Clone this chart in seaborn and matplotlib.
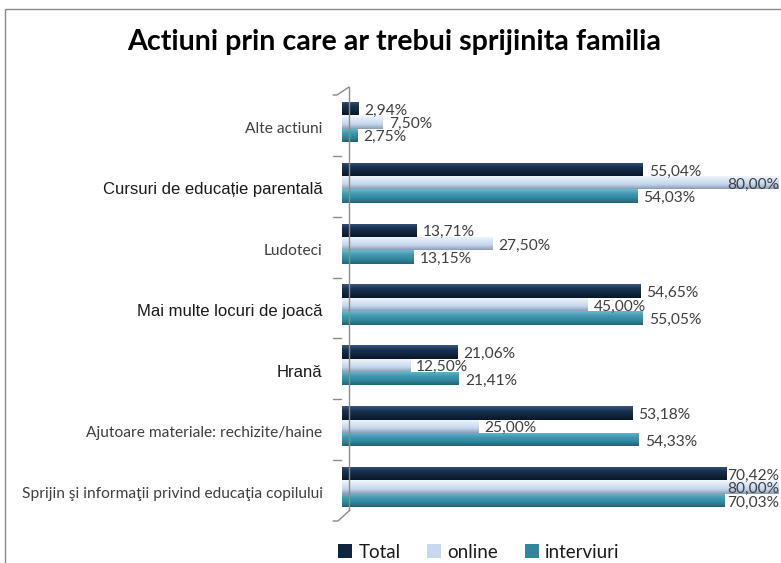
import numpy as np
import pandas as pd
import matplotlib
matplotlib.use("Agg")
import matplotlib.pyplot as plt
import matplotlib.transforms as mtrans
from matplotlib.lines import Line2D
from matplotlib.patches import Patch, Rectangle
from matplotlib.colors import to_rgb
import seaborn as sns

# ---------------- data ----------------
categories = [
    "Alte actiuni",
    "Cursuri de educație parentală",
    "Ludoteci",
    "Mai multe locuri de joacă",
    "Hrană",
    "Ajutoare materiale: rechizite/haine",
    "Sprijin şi informaţii privind educaţia copilului",
]
total = [2.94, 55.04, 13.71, 54.65, 21.06, 53.18, 70.42]
online = [7.50, 80.00, 27.50, 45.00, 12.50, 25.00, 80.00]
interviuri = [2.75, 54.03, 13.15, 55.05, 21.41, 54.33, 70.03]
series_names = ["Total", "online", "interviuri"]
title = "Actiuni prin care ar trebui sprijinita familia"
arial_like = {"Cursuri de educație parentală", "Mai multe locuri de joacă", "Hrană"}

colors = {"Total": "#10253f", "online": "#c6d9f1", "interviuri": "#31859c"}
gradients = {
    "Total": ["#3a5780", "#1a3254", "#10253f", "#0a1828"],
    "online": ["#f3f7fc", "#dbe7f5", "#c3d5ec", "#8b9cb3"],
    "interviuri": ["#6cb9cf", "#4499b2", "#31859c", "#226477"],
}

df = pd.DataFrame({
    "cat": categories * 3,
    "value": total + online + interviuri,
    "series": sum([[s] * len(categories) for s in series_names], []),
})

# ---------------- figure ----------------
W, H, DPI = 781, 563, 100
sns.set_theme(style="white")
plt.rcParams["font.family"] = ["Lato", "DejaVu Sans"]
fig = plt.figure(figsize=(W / DPI, H / DPI), dpi=DPI)
fig.patch.set_facecolor("white")

def fx(px):
    return px / W

def fy(py):
    return 1 - py / H

left_px, top_px, bottom_px = 342, 91.5, 517.5
ax = fig.add_axes([fx(left_px), fy(bottom_px), 1 - fx(left_px), (bottom_px - top_px) / H])
ax.set_facecolor("none")

sns.barplot(data=df, y="cat", x="value", hue="series", hue_order=series_names,
            order=categories, palette=colors, orient="h", width=0.66, gap=0,
            saturation=1, legend=False, ax=ax, edgecolor="none", linewidth=0)

px_per_unit = 5.4625
xmax = (W - left_px) / px_per_unit
ax.set_xlim(0, xmax)
ax.set_ylim(len(categories) - 0.5, -0.5)

# gradient shading clipped to each bar
nb = len(categories)
for i, p in enumerate(ax.patches[: 3 * nb]):
    s = series_names[i // nb]
    cols = np.array([to_rgb(c) for c in gradients[s]])
    t = np.linspace(0, 1, 40)
    stops = np.linspace(0, 1, len(cols))
    grad = np.stack([np.interp(t, stops, cols[:, k]) for k in range(3)], axis=-1)[:, None, :]
    x0, y0, w, h = p.get_x(), p.get_y(), p.get_width(), p.get_height()
    im = ax.imshow(grad, extent=(x0, x0 + w, y0 + h, y0), aspect="auto",
                   origin="upper", zorder=2, interpolation="bilinear")
    im.set_clip_path(p)

ax.set_xlim(0, xmax)
ax.set_ylim(len(categories) - 0.5, -0.5)

# value labels
lab_off = mtrans.ScaledTranslation(0, -2 / DPI, fig.dpi_scale_trans)
x_limit = (727 - left_px) / px_per_unit
for i, p in enumerate(ax.patches[: 3 * nb]):
    v = p.get_width()
    yc = p.get_y() + p.get_height() / 2
    txt = f"{v:.2f}".replace(".", ",") + "%"
    ax.text(min(v + 1.1, x_limit), yc, txt, ha="left", va="center",
            fontsize=11.2, color="#404040", family=["Lato", "DejaVu Sans"],
            transform=ax.transData + lab_off, zorder=5, clip_on=False)

# axes styling
for sp in ax.spines.values():
    sp.set_visible(False)
ax.set_xticks([])
ax.set_xlabel("")
ax.set_ylabel("")
ax.tick_params(axis="y", length=0, pad=14)
lab_shift = mtrans.ScaledTranslation(0, -5.5 / DPI, fig.dpi_scale_trans)
for lab in ax.get_yticklabels():
    if lab.get_text() in arial_like:
        lab.set_family(["Liberation Sans", "DejaVu Sans"])
        lab.set_color("#1a1a1a")
        lab.set_fontsize(12)
    else:
        lab.set_family(["Lato", "DejaVu Sans"])
        lab.set_color("#404040")
        lab.set_fontsize(11.2)
    lab.set_transform(lab.get_transform() + lab_shift)

# 3D wall decoration
wall = "#8c8c8c"
def fline(xs, ys, **kw):
    fig.add_artist(Line2D([fx(x) for x in xs], [fy(y) for y in ys],
                          transform=fig.transFigure, color=wall, lw=1, **kw))
fline([333, 337, 349], [95, 95, 87])
fline([349, 349], [87, 510])
fline([333, 338, 350], [521, 521, 510])
tick_tr = mtrans.blended_transform_factory(fig.transFigure, ax.transData) + \
    mtrans.ScaledTranslation(0, -3.5 / DPI, fig.dpi_scale_trans)
for b in np.arange(nb - 1) + 0.5:
    fig.add_artist(Line2D([fx(333), fx(341)], [b, b], transform=tick_tr,
                          color=wall, lw=1))

# outer frame
fig.add_artist(Rectangle((fx(5), -0.1), 1.2, 1.1 - 9 / H, transform=fig.transFigure,
                         fill=False, edgecolor="#888888", lw=1))

# title
fig.text(fx(394), fy(42), title, ha="center", va="center", fontsize=20.6,
         weight="bold", color="#000000", family=["Lato", "DejaVu Sans"])

# legend
handles = [Patch(facecolor=colors[s], edgecolor="none") for s in series_names]
fig.legend(handles, series_names, loc="center", bbox_to_anchor=(fx(479), fy(552)),
           ncol=3, frameon=False, handlelength=0.75, handleheight=0.75,
           handletextpad=0.35, columnspacing=1.4, labelcolor="#1a1a1a",
           prop={"family": ["Lato", "DejaVu Sans"], "size": 13.5})

fig.savefig("out.png", dpi=DPI, facecolor="white")
